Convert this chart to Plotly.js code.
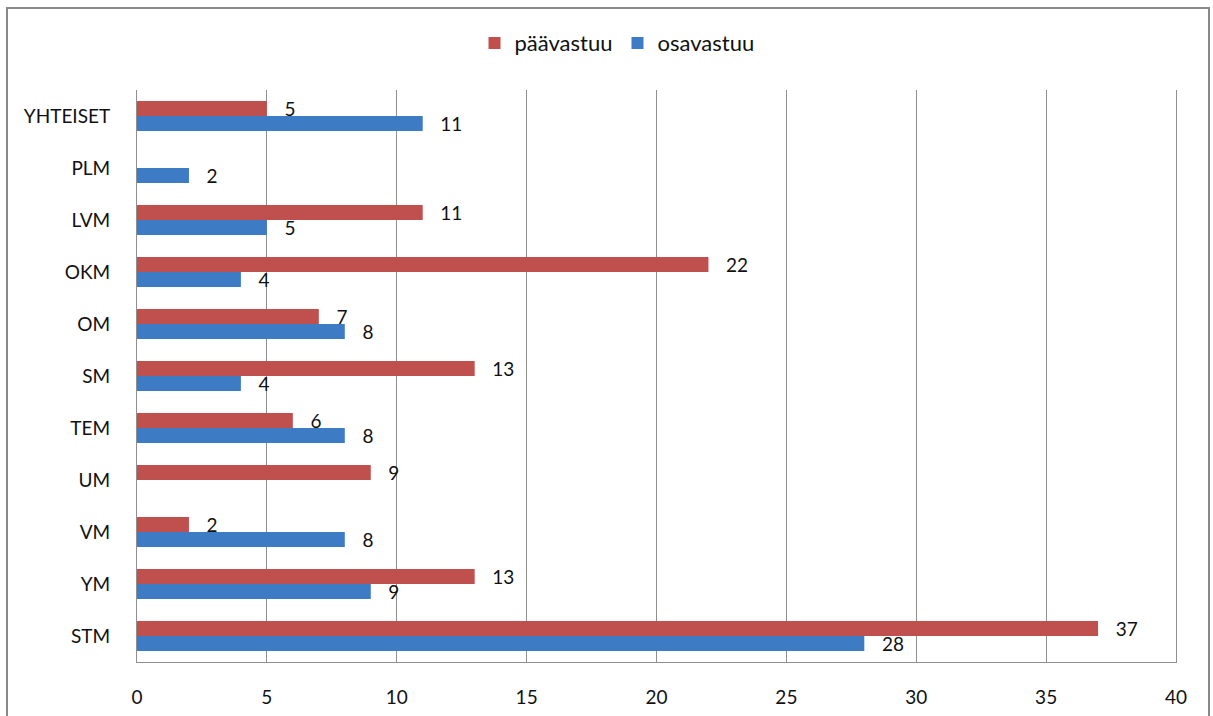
<!DOCTYPE html>
<html>
<head>
<meta charset="utf-8">
<script src="https://cdn.plot.ly/plotly-3.0.1.min.js"></script>
<style>
  html, body { margin: 0; padding: 0; background: #fff; }
  #chart { width: 1213px; height: 716px; position: relative; }
  #frame { position: absolute; left: 6px; top: 7px; width: 1204px; height: 720px; border: 2px solid #8a8a8a; pointer-events: none; box-sizing: border-box; }
</style>
</head>
<body>
<div id="chart"></div>
<div id="frame"></div>
<script>
const categories = ["STM", "YM", "VM", "UM", "TEM", "SM", "OM", "OKM", "LVM", "PLM", "YHTEISET"];
const paavastuu = [37, 13, 2, 9, 6, 13, 7, 22, 11, null, 5];
const osavastuu = [28, 9, 8, null, 8, 4, 8, 4, 5, 2, 11];
const xTicks = [0, 5, 10, 15, 20, 25, 30, 35, 40];

const labelFont = { family: "Lato, 'Open Sans', sans-serif", size: 19, color: "#111" };

const traces = [
  {
    type: "bar", orientation: "h", name: "osavastuu",
    y: categories, x: osavastuu,
    text: osavastuu.map(v => v == null ? "" : "\u00a0\u00a0\u00a0" + v),
    textposition: "outside", cliponaxis: false, constraintext: "none",
    textfont: labelFont,
    marker: { color: "#3D7BC4" }
  },
  {
    type: "bar", orientation: "h", name: "päävastuu",
    y: categories, x: paavastuu,
    text: paavastuu.map(v => v == null ? "" : "\u00a0\u00a0\u00a0" + v),
    textposition: "outside", cliponaxis: false, constraintext: "none",
    textfont: labelFont,
    marker: { color: "#C0504D" }
  }
];

const layout = {
  width: 1213, height: 716,
  margin: { l: 137, r: 37, t: 90, b: 54 },
  paper_bgcolor: "#fff", plot_bgcolor: "#fff",
  barmode: "group", bargap: 0.42, bargroupgap: 0,
  font: labelFont,
  showlegend: true,
  legend: {
    orientation: "h", traceorder: "reversed",
    x: 0.462, xanchor: "center", y: 1.082, yanchor: "middle",
    font: { family: "Lato, 'Open Sans', sans-serif", size: 22, color: "#111" },
    itemwidth: 30
  },
  xaxis: {
    range: [0, 40], tickvals: xTicks, ticktext: xTicks.map(String),
    showgrid: true, gridcolor: "#8f8f8f", gridwidth: 1,
    zeroline: false, showline: true, linecolor: "#8f8f8f", linewidth: 1,
    ticks: "", ticklabelstandoff: 18,
    tickfont: labelFont, fixedrange: true
  },
  yaxis: {
    categoryorder: "array", categoryarray: categories,
    showgrid: false, zeroline: false, showline: true, mirror: true, linecolor: "#8f8f8f", linewidth: 1,
    ticks: "", ticklabelstandoff: 22,
    tickfont: labelFont, fixedrange: true
  }
};

Plotly.newPlot("chart", traces, layout, { displayModeBar: false, staticPlot: true });
</script>
</body>
</html>
